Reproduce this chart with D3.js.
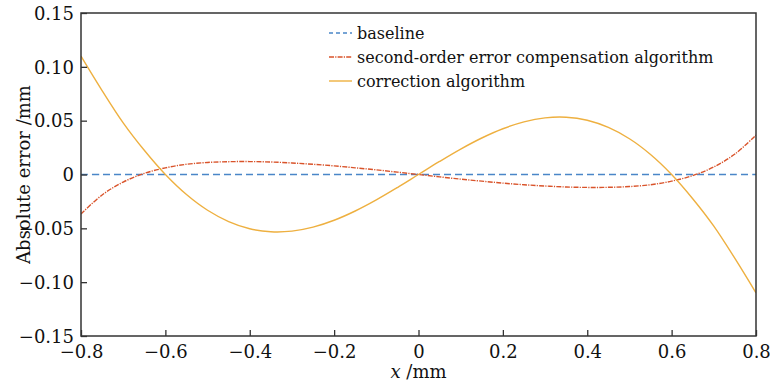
<!DOCTYPE html>
<html>
<head>
<meta charset="utf-8">
<script src="https://cdn.jsdelivr.net/npm/d3@7"></script>
<style>
  html, body { margin: 0; padding: 0; background: #fff; }
  svg { display: block; }
</style>
</head>
<body>
<svg id="chart" width="770" height="388"></svg>
<script>
// ---- data ----
const xValues = [-0.8,-0.75,-0.7,-0.65,-0.6,-0.55,-0.5,-0.45,-0.4,-0.35,-0.3,-0.25,-0.2,-0.15,-0.1,-0.05,
                 0,0.05,0.1,0.15,0.2,0.25,0.3,0.35,0.4,0.45,0.5,0.55,0.6,0.65,0.7,0.75,0.8];
const baselineValues = xValues.map(() => 0);
const secondOrderValues = [-0.0366,-0.0190,-0.0070,0.0010,0.0062,0.0095,0.0112,0.0119,0.0120,0.0116,0.0107,0.0095,0.0080,0.0062,0.0043,0.0022,
                           0,-0.0022,-0.0043,-0.0062,-0.0080,-0.0095,-0.0107,-0.0116,-0.0120,-0.0119,-0.0112,-0.0095,-0.0062,-0.0010,0.0070,0.0190,0.0366];
const correctionValues = [0.1100,0.0780,0.0480,0.0225,0,-0.0186,-0.0332,-0.0437,-0.0504,-0.0532,-0.0526,-0.0489,-0.0425,-0.0339,-0.0236,-0.0121,
                          0,0.0121,0.0236,0.0339,0.0425,0.0489,0.0526,0.0532,0.0504,0.0437,0.0332,0.0186,0,-0.0225,-0.0480,-0.0780,-0.1100];
const xTicks = [-0.8,-0.6,-0.4,-0.2,0,0.2,0.4,0.6,0.8];
const xTickLabels = ["\u22120.8","\u22120.6","\u22120.4","\u22120.2","0","0.2","0.4","0.6","0.8"];
const yTicks = [-0.15,-0.10,-0.05,0,0.05,0.10,0.15];
const yTickLabels = ["\u22120.15","\u22120.10","\u22120.05","0","0.05","0.10","0.15"];
const seriesNames = ["baseline","second-order error compensation algorithm","correction algorithm"];
const seriesColors = ["#4a86c8","#d9532a","#eeb040"];

// ---- layout ----
const FONT = "DejaVu Serif";
const svg = d3.select("#chart");
const L = 81, R = 756, T = 13, B = 336;
const x = d3.scaleLinear().domain([-0.8, 0.8]).range([L, R]);
const y = d3.scaleLinear().domain([-0.15, 0.15]).range([B, T]);

const curveLine = d3.line().x(d => x(d[0])).y(d => y(d[1])).curve(d3.curveCatmullRom.alpha(0.5));

const plot = svg.append("g");
svg.append("clipPath").attr("id","clip").append("rect")
  .attr("x", L).attr("y", T).attr("width", R - L).attr("height", B - T);

const series = [
  {vals: baselineValues, color: seriesColors[0], dash: "7,4", width: 1.6},
  {vals: secondOrderValues, color: seriesColors[1], dash: "5,1.2,1.2,1.2", width: 1.4},
  {vals: correctionValues, color: seriesColors[2], dash: null, width: 1.4}
];
series.forEach(s => {
  plot.append("path")
    .datum(xValues.map((xv, i) => [xv, s.vals[i]]))
    .attr("d", curveLine)
    .attr("fill", "none")
    .attr("stroke", s.color)
    .attr("stroke-width", s.width)
    .attr("stroke-dasharray", s.dash)
    .attr("clip-path", "url(#clip)");
});

// ---- axes ----
const axisColor = "#333";
const xAxis = d3.axisBottom(x).tickValues(xTicks).tickFormat((d, i) => xTickLabels[i]).tickSizeInner(-6).tickSizeOuter(0).tickPadding(9);
const yAxis = d3.axisLeft(y).tickValues(yTicks).tickFormat((d, i) => yTickLabels[i]).tickSizeInner(-6).tickSizeOuter(0).tickPadding(7);

const gx = svg.append("g").attr("transform", `translate(0,${B})`).call(xAxis);
const gy = svg.append("g").attr("transform", `translate(${L},0)`).call(yAxis);
[gx, gy].forEach(g => {
  g.select(".domain").remove();
  g.selectAll(".tick line").attr("stroke", axisColor).attr("stroke-width", 1.3);
  g.selectAll(".tick text").attr("font-family", FONT).attr("font-size", 18).attr("fill", "#111");
});
gy.selectAll(".tick text").attr("dy", "0.35em");

// frame
svg.append("rect").attr("x", L).attr("y", T).attr("width", R - L).attr("height", B - T)
  .attr("fill", "none").attr("stroke", axisColor).attr("stroke-width", 1.5);

// axis titles
const xt = svg.append("text").attr("x", (L + R) / 2).attr("y", 378).attr("text-anchor", "middle")
  .attr("font-family", FONT).attr("font-size", 18).attr("fill", "#111");
xt.append("tspan").attr("font-style", "italic").text("x");
xt.append("tspan").text(" /mm");

svg.append("text").attr("transform", `translate(24,${(T + B) / 2}) rotate(-90)`)
  .attr("text-anchor", "middle").attr("dy", "0.35em").attr("font-family", FONT).attr("font-size", 18)
  .attr("fill", "#111").text("Absolute error /mm");

// ---- legend ----
const legendX1 = 329, legendX2 = 352, legendTextX = 357;
const legendY = [33, 57, 81];
series.forEach((s, i) => {
  svg.append("line").attr("x1", legendX1).attr("x2", legendX2).attr("y1", legendY[i]).attr("y2", legendY[i])
    .attr("stroke", s.color).attr("stroke-width", s.width).attr("stroke-dasharray", i === 0 ? "4,3" : s.dash);
  svg.append("text").attr("x", legendTextX).attr("y", legendY[i]).attr("dy", "0.35em")
    .attr("font-family", FONT).attr("font-size", 16).attr("fill", "#111").text(seriesNames[i]);
});
</script>
</body>
</html>
